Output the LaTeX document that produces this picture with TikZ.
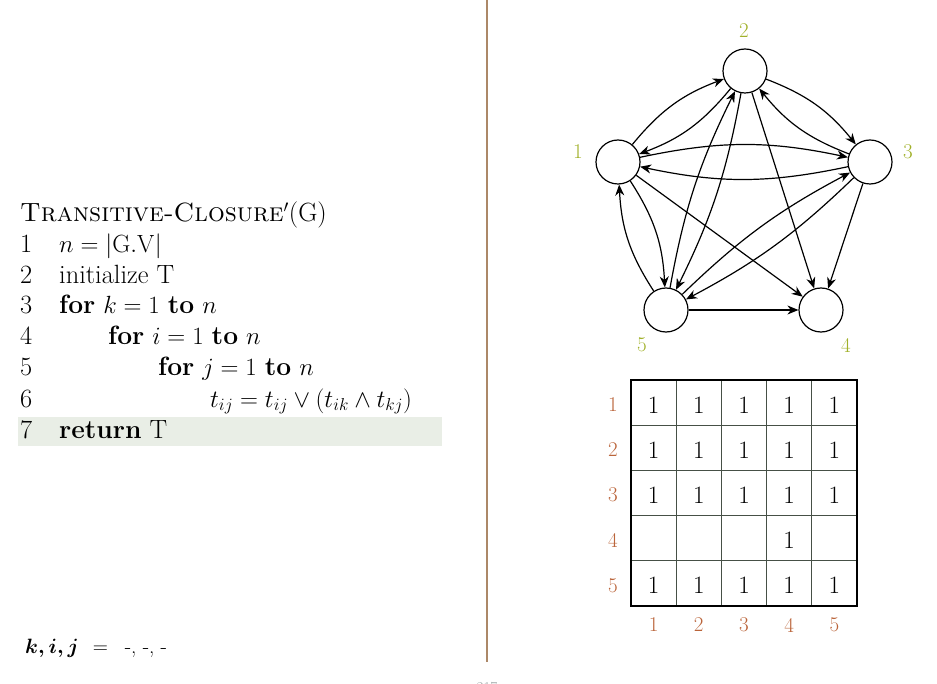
\documentclass[tikz,border=0pt]{standalone}
\usepackage{amsmath}
\usetikzlibrary{arrows.meta}
\definecolor{sepcol}{RGB}{172,136,104}
\definecolor{hlcol}{RGB}{233,238,230}
\definecolor{vlabcol}{RGB}{160,176,40}
\definecolor{mlabcol}{RGB}{186,100,58}
\definecolor{gridcol}{RGB}{70,80,70}
\definecolor{pagecol}{RGB}{150,160,160}
\tikzset{
  codeline/.style={anchor=base west, inner sep=0pt, font=\fontsize{26.4}{30}\selectfont},
  vert/.style={circle, draw, minimum size=44pt, inner sep=0pt, line width=1.2pt},
  vlab/.style={text=vlabcol, inner sep=0pt, font=\fontsize{21}{24}\selectfont},
  mlab/.style={text=mlabcol, inner sep=0pt, font=\fontsize{21}{24}\selectfont},
  edge/.style={line width=1.2pt, -{Stealth[length=11pt,width=9pt,inset=3.5pt]}},
  cell/.style={inner sep=0pt, font=\fontsize{25}{30}\selectfont},
}
\begin{document}
\begin{tikzpicture}[x=1pt,y=-1pt]
\useasboundingbox (0,0) rectangle (937,684);
\clip (0,0) rectangle (937,684);
% separator
\draw[sepcol, line width=1.5pt] (487,0) -- (487,662);
\node[inner sep=0pt, anchor=base, text=pagecol, font=\fontsize{15}{18}\selectfont] (page) at (487,692) {217};
% highlight
\fill[hlcol] (18,417) rectangle (442,446);
% pseudocode
\node[codeline] (title) at (20,222) {\textsc{Transitive-Closure}$'$(G)};
\node[codeline] (n1) at (20,253) {1};
\node[codeline] (n2) at (20,284) {2};
\node[codeline] (n3) at (20,314) {3};
\node[codeline] (n4) at (20,345) {4};
\node[codeline] (n5) at (20,376) {5};
\node[codeline] (n6) at (20,407) {6};
\node[codeline] (n7) at (20,438) {7};
\node[codeline] (c1) at (59,253) {$n = |\mathrm{G.V}|$};
\node[codeline] (c2) at (59,284) {initialize T};
\node[codeline] (c3) at (59,314) {\textbf{for} $k = 1$ \textbf{to} $n$};
\node[codeline] (c4) at (108,345) {\textbf{for} $i = 1$ \textbf{to} $n$};
\node[codeline] (c5) at (158,376) {\textbf{for} $j = 1$ \textbf{to} $n$};
\node[codeline] (c6) at (210,407) {$t_{ij} = t_{ij} \vee (t_{ik} \wedge t_{kj})$};
\node[codeline] (c7) at (59,438) {\textbf{return} T};
\node[anchor=base west, inner sep=0pt, font=\fontsize{21}{24}\selectfont] (kij) at (25,653) {$\boldsymbol{k,i,j}$\hspace{14pt}=\hspace{17pt}-, -, -};
% graph
\node[vert] (v1) at (618,162) {};
\node[vert] (v2) at (745,71) {};
\node[vert] (v3) at (870,162) {};
\node[vert] (v4) at (821,310) {};
\node[vert] (v5) at (666,310) {};
\node[vlab] (l1) at (578,152) {1};
\node[vlab] (l2) at (744,31) {2};
\node[vlab] (l3) at (908,152) {3};
\node[vlab] (l4) at (846,345) {4};
\node[vlab] (l5) at (642,345) {5};
\draw[edge] (v1) to[bend left=15] (v2);
\draw[edge] (v2) to[bend left=15] (v1);
\draw[edge] (v2) to[bend left=15] (v3);
\draw[edge] (v3) to[bend left=15] (v2);
\draw[edge] (v1) to[bend left=12] (v3);
\draw[edge] (v3) to[bend left=12] (v1);
\draw[edge] (v1) to[bend left=15] (v5);
\draw[edge] (v5) to[bend left=15] (v1);
\draw[edge] (v2) to[bend left=8] (v5);
\draw[edge] (v5) to[bend left=8] (v2);
\draw[edge] (v3) to[bend left=8] (v5);
\draw[edge] (v5) to[bend left=8] (v3);
\draw[edge] (v1) -- (v4);
\draw[edge] (v2) -- (v4);
\draw[edge] (v3) -- (v4);
\draw[edge] (v5) -- (v4);
% matrix
\foreach \k in {1,2,3,4} {
  \draw[gridcol, line width=0.7pt] (631+45.2*\k,380) -- (631+45.2*\k,606);
  \draw[gridcol, line width=0.7pt] (631,380+45.2*\k) -- (857,380+45.2*\k);
}
\draw[line width=1.6pt] (631,380) rectangle (857,606);
\foreach \r in {1,2,3,5} {
  \foreach \c in {1,...,5} {
    \node[cell] (m\r\c) at (631+45.2*\c-22.6,380+45.2*\r-20.4) {1};
  }
}
\node[cell] (m44) at (631+45.2*4-22.6,380+45.2*4-20.4) {1};
\foreach \k in {1,...,5} {
  \node[mlab] (r\k) at (613,380+45.2*\k-20.4) {\k};
  \node[mlab] (k\k) at (631+45.2*\k-22.6,625) {\k};
}
\end{tikzpicture}
\end{document}
